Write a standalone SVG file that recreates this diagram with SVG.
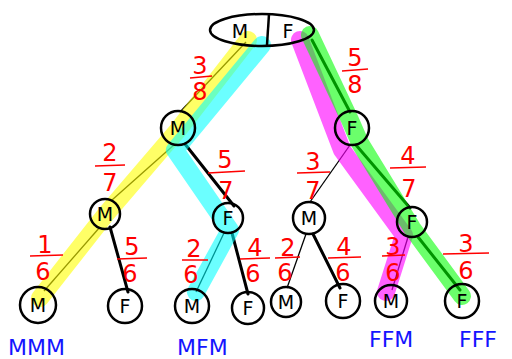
<svg xmlns="http://www.w3.org/2000/svg" width="512" height="359" viewBox="0 0 512 359">
<style>
.node{fill:none;stroke:#000;stroke-width:2.5}
.lt{font-family:"DejaVu Sans",sans-serif;font-size:19px;fill:#000;text-anchor:middle}
.thin{stroke:#000;stroke-width:1.3;fill:none}
.thick{stroke:#000;stroke-width:3;fill:none;stroke-linecap:round}
.hl{fill:none;stroke-width:18;stroke-linecap:round;stroke-linejoin:round}
.fr{font-family:"DejaVu Sans",sans-serif;font-size:24px;fill:#f00;text-anchor:middle}
.fl{stroke:#f00;stroke-width:1.5}
.lab{font-family:"DejaVu Sans",sans-serif;font-size:22px;fill:#1414ff}
</style>
<rect width="512" height="359" fill="#fff"/>
<g id="connectors">
<line class="thin" x1="246" y1="42" x2="180" y2="112"/>
<line class="thick" x1="312" y1="40" x2="350" y2="112"/>
<line class="thin" x1="175" y1="144" x2="112" y2="200"/>
<line class="thick" x1="185" y1="144" x2="234" y2="206"/>
<line class="thin" x1="350" y1="145" x2="310" y2="202"/>
<line class="thick" x1="356" y1="145" x2="410" y2="208"/>
<line class="thin" x1="100" y1="227" x2="44" y2="291"/>
<line class="thick" x1="110" y1="227" x2="128" y2="292"/>
<line class="thin" x1="224" y1="233" x2="196" y2="292"/>
<line class="thick" x1="232" y1="233" x2="248" y2="294"/>
<line class="thin" x1="306" y1="234" x2="287" y2="288"/>
<line class="thick" x1="313" y1="234" x2="340" y2="288"/>
<line class="thin" x1="408" y1="237" x2="392" y2="290"/>
<line class="thick" x1="418" y1="237" x2="460" y2="290"/>
</g>
<g id="highlights">
<polyline class="hl" stroke="#ffff00" stroke-opacity="0.6" points="248,40 178,130 106,214 40,298"/>
<polyline class="hl" stroke="#00ffff" stroke-opacity="0.58" points="262,45 175,150 230,230 196,292"/>
<polyline class="hl" stroke="#ff00ff" stroke-opacity="0.62" points="300,40 342,150 404,235 386,292"/>
<polyline class="hl" stroke="#00ff00" stroke-opacity="0.58" points="310,35 350,120 360,143 412,228 462,296"/>
</g>
<g id="root">
<ellipse class="node" cx="262" cy="30" rx="52" ry="16"/>
<line class="node" x1="269" y1="14" x2="267" y2="45"/>
<text class="lt" x="240" y="38">M</text>
<text class="lt" x="288" y="38">F</text>
</g>
<g id="n1M"><circle class="node" cx="178" cy="128" r="17"/><text class="lt" x="178" y="135">M</text></g>
<g id="n1F"><circle class="node" cx="352" cy="128" r="17"/><text class="lt" x="352" y="135">F</text></g>
<g id="n2MM"><circle class="node" cx="105" cy="214" r="15"/><text class="lt" x="105" y="221">M</text></g>
<g id="n2MF"><circle class="node" cx="228" cy="218" r="15"/><text class="lt" x="228" y="225">F</text></g>
<g id="n2FM"><circle class="node" cx="309" cy="218" r="16"/><text class="lt" x="309" y="225">M</text></g>
<g id="n2FF"><circle class="node" cx="412" cy="222" r="15"/><text class="lt" x="412" y="229">F</text></g>
<g id="n3MMM"><circle class="node" cx="38" cy="305" r="18"/><text class="lt" x="38" y="312">M</text></g>
<g id="n3MMF"><circle class="node" cx="125" cy="306" r="17"/><text class="lt" x="125" y="313">F</text></g>
<g id="n3MFM"><circle class="node" cx="192" cy="306" r="17"/><text class="lt" x="192" y="313">M</text></g>
<g id="n3MFF"><circle class="node" cx="248" cy="308" r="16"/><text class="lt" x="248" y="315">F</text></g>
<g id="n3FMM"><circle class="node" cx="286" cy="302" r="15"/><text class="lt" x="286" y="309">M</text></g>
<g id="n3FMF"><circle class="node" cx="343" cy="301" r="17"/><text class="lt" x="343" y="308">F</text></g>
<g id="n3FFM"><circle class="node" cx="391" cy="301" r="16"/><text class="lt" x="391" y="308">M</text></g>
<g id="n3FFF"><circle class="node" cx="462" cy="301" r="17"/><text class="lt" x="462" y="308">F</text></g>
<g id="fractions">
<text class="fr" x="200" y="74">3</text><line class="fl" x1="190" y1="78" x2="212" y2="76"/><text class="fr" x="200" y="100">8</text>
<text class="fr" x="355" y="66">5</text><line class="fl" x1="342" y1="71" x2="368" y2="69"/><text class="fr" x="355" y="93">8</text>
<text class="fr" x="110" y="161">2</text><line class="fl" x1="95" y1="166" x2="125" y2="165"/><text class="fr" x="110" y="191">7</text>
<text class="fr" x="225" y="168">5</text><line class="fl" x1="208" y1="173" x2="245" y2="171"/><text class="fr" x="226" y="199">7</text>
<text class="fr" x="313" y="170">3</text><line class="fl" x1="297" y1="173" x2="330" y2="172"/><text class="fr" x="313" y="199">7</text>
<text class="fr" x="408" y="164">4</text><line class="fl" x1="390" y1="168" x2="426" y2="167"/><text class="fr" x="409" y="197">7</text>
<text class="fr" x="45" y="253">1</text><line class="fl" x1="30" y1="256" x2="63" y2="255"/><text class="fr" x="43" y="280">6</text>
<text class="fr" x="132" y="255">5</text><line class="fl" x1="117" y1="259" x2="147" y2="258"/><text class="fr" x="130" y="282">6</text>
<text class="fr" x="194" y="257">2</text><line class="fl" x1="182" y1="260" x2="208" y2="260"/><text class="fr" x="191" y="283">6</text>
<text class="fr" x="255" y="256">4</text><line class="fl" x1="240" y1="259" x2="270" y2="258"/><text class="fr" x="253" y="282">6</text>
<text class="fr" x="288" y="256">2</text><line class="fl" x1="275" y1="258" x2="300" y2="257"/><text class="fr" x="285" y="281">6</text>
<text class="fr" x="344" y="255">4</text><line class="fl" x1="328" y1="258" x2="361" y2="257"/><text class="fr" x="343" y="281">6</text>
<text class="fr" x="393" y="255">3</text><line class="fl" x1="382" y1="256" x2="405" y2="255"/><text class="fr" x="393" y="281">6</text>
<text class="fr" x="466" y="252">3</text><line class="fl" x1="443" y1="254" x2="489" y2="253"/><text class="fr" x="466" y="279">6</text>
</g>
<g id="labels">
<text class="lab" x="8" y="355">MMM</text>
<text class="lab" x="177" y="355">MFM</text>
<text class="lab" x="369" y="347">FFM</text>
<text class="lab" x="459" y="347">FFF</text>
</g>
</svg>
